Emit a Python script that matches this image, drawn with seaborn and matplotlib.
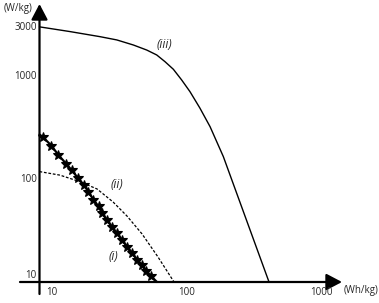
import numpy as np
import pandas as pd
import matplotlib
matplotlib.use("Agg")
import matplotlib.pyplot as plt
import seaborn as sns

# ---- data ----
# curve (iii): solid
iii_energy = [10, 17, 28.7, 38.5, 51.4, 64.9, 77.3, 89.3, 103.3, 119.4, 138, 164, 196, 247, 548]
iii_power = [3000, 2700, 2410, 2240, 2000, 1787, 1600, 1377, 1162, 915, 705, 489, 322, 165, 10]
# curve (ii): dashed
ii_energy = [10, 14.3, 20.3, 27.3, 36.1, 46, 59.8, 79, 104.5]
ii_power = [118, 109, 94, 80, 59.8, 43.7, 29.3, 17.5, 10]
# curve (i): thick line with star markers (first and last vertex carry no marker)
i_energy = [10, 10.6, 12.3, 13.9, 15.9, 17.6, 19.6, 21.7, 23.5, 25.6, 28.0, 29.7,
            32.4, 35.4, 38.6, 42.2, 46.0, 50.2, 54.8, 59.8, 64.1, 70.0, 77.6]
i_power = [270, 256, 211, 171, 141, 121, 102, 87.5, 74.8, 63.2, 54.1, 46.8,
           40.0, 34.2, 29.6, 25.6, 22.1, 19.1, 16.5, 14.6, 12.9, 11.4, 10]

curve_labels = ["(iii)", "(ii)", "(i)"]
curve_label_x = [89, 38.5, 36]
curve_label_y = [2000, 87.5, 17.6]

x_ticks = [10, 100, 1000]
x_tick_labels = ["10", "100", "1000"]
y_ticks = [10, 100, 1000, 3000]
y_tick_labels = ["10", "100", "1000", "3000"]
x_unit = "(Wh/kg)"
y_unit = "(W/kg)"

# ---- style ----
sns.set_style("white")
plt.rcParams["font.family"] = ["Open Sans", "DejaVu Sans"]

fig = plt.figure(figsize=(3.79, 3.03), dpi=100)
ax = fig.add_axes([0, 0, 1, 1])
ax.set_xscale("log")
ax.set_yscale("log")
ax.set_xlim(10 ** (1 - 39.5 / 132), 10 ** (1 + 339.5 / 132))
ax.set_ylim(10 ** (1 - 21 / 103), 10 ** (1 + 282 / 103))
for s in ax.spines.values():
    s.set_visible(False)
ax.set_xticks([])
ax.set_yticks([])
ax.minorticks_off()
ax.grid(False)

df_iii = pd.DataFrame({"x": iii_energy, "y": iii_power})
df_ii = pd.DataFrame({"x": ii_energy, "y": ii_power})
df_i = pd.DataFrame({"x": i_energy, "y": i_power})

sns.lineplot(data=df_iii, x="x", y="y", ax=ax, sort=False, estimator=None,
             color="black", linewidth=1.0)
ax.plot(df_ii["x"], df_ii["y"], color="black", linewidth=0.9,
        linestyle=(0, (2.2, 1.4)))
sns.lineplot(data=df_i, x="x", y="y", ax=ax, sort=False, estimator=None,
             color="black", linewidth=1.6, marker="*", markersize=7.5,
             markeredgewidth=0.8, markeredgecolor="black", markerfacecolor="black",
             markevery=list(range(1, len(i_energy) - 1)))

# axes with arrow heads
arrow_kw = dict(arrowstyle="-|>,head_length=0.95,head_width=0.5",
                color="black", lw=1.6, shrinkA=0, shrinkB=0, mutation_scale=10)
ax.annotate("", xy=(342 / 379, 10), xytext=(20 / 379, 10),
            xycoords=("axes fraction", "data"), textcoords=("axes fraction", "data"),
            arrowprops=arrow_kw)
ax.annotate("", xy=(10, 1 - 4 / 303), xytext=(10, 1 - 294 / 303),
            xycoords=("data", "axes fraction"), textcoords=("data", "axes fraction"),
            arrowprops=arrow_kw)

fs = 7
for v, lab in zip(x_ticks, x_tick_labels):
    ax.annotate(lab, xy=(v, 10), xytext=(4.5, -7.5), textcoords="offset points",
                ha="left", va="center", fontsize=fs)
for v, lab in zip(y_ticks, y_tick_labels):
    if v == 10:
        # the origin label sits just above the horizontal axis
        ax.annotate(lab, xy=(10, v), xytext=(-2.0, 0.5), textcoords="offset points",
                    ha="right", va="bottom", fontsize=fs)
    else:
        ax.annotate(lab, xy=(10, v), xytext=(-2.0, -0.5), textcoords="offset points",
                    ha="right", va="center", fontsize=fs)

ax.text(361 / 379, 1 - 290 / 303, x_unit, transform=ax.transAxes,
        ha="center", va="center", fontsize=fs)
ax.text(18 / 379, 1 - 9 / 303, y_unit, transform=ax.transAxes,
        ha="center", va="center", fontsize=fs)

for lab, x, y in zip(curve_labels, curve_label_x, curve_label_y):
    ax.text(x, y, lab, ha="center", va="center", fontsize=8.5, style="italic")

fig.savefig("out.png", dpi=100)
